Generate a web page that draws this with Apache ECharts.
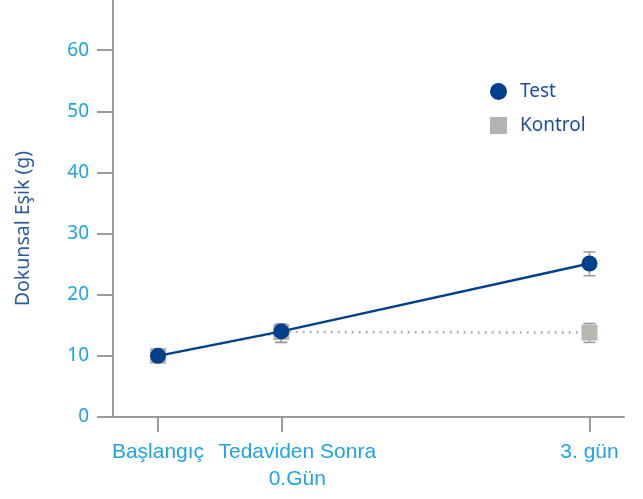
<!DOCTYPE html>
<html><head><meta charset="utf-8">
<script src="https://cdn.jsdelivr.net/npm/echarts@6/dist/echarts.min.js"></script>
<style>html,body{margin:0;padding:0;background:#fff}#c{width:643px;height:499px}</style>
</head><body><div id="c"></div>
<script>
const categories = ['Başlangıç', 'Tedaviden Sonra\n0.Gün', '3. gün'];
const timeValues = [1, 2, 4.5];
const testValues = [10, 14.0, 25.1];
const testLow = [10, 12.2, 23.1];
const testHigh = [10, 15.2, 27.0];
const controlValues = [10, 13.9, 13.8];
const controlLow = [10, 12.2, 12.2];
const controlHigh = [10, 15.2, 15.3];
const yTicks = [0, 10, 20, 30, 40, 50, 60];

const BLUE = '#03408c';
const LABEL = '#1ea4e4';
const AXIS = '#9b9b9b';
const X_MIN = 0.635, X_MAX = 4.78;

function errSeries(name, low, high, z) {
  return {
    type: 'custom', name: name + '-err', z: z, silent: true,
    data: timeValues.map((t, i) => [t, low[i], high[i]]),
    renderItem: function (params, api) {
      const x = api.value(0);
      const pLo = api.coord([x, api.value(1)]);
      const pHi = api.coord([x, api.value(2)]);
      const w = 6;
      const st = { stroke: '#9a9a9a', lineWidth: 1.5 };
      return { type: 'group', children: [
        { type: 'line', shape: { x1: pLo[0], y1: pLo[1], x2: pHi[0], y2: pHi[1] }, style: st },
        { type: 'line', shape: { x1: pLo[0] - w, y1: pLo[1], x2: pLo[0] + w, y2: pLo[1] }, style: st },
        { type: 'line', shape: { x1: pHi[0] - w, y1: pHi[1], x2: pHi[0] + w, y2: pHi[1] }, style: st }
      ]};
    }
  };
}

function labelFor(v) {
  const i = timeValues.indexOf(v);
  return i < 0 ? '' : categories[i];
}

const outerTicks = [timeValues[0], timeValues[2]];
const middleTick = [timeValues[1]];

const chart = echarts.init(document.getElementById('c'), null, { renderer: 'canvas' });
chart.setOption({
  animation: false,
  backgroundColor: '#fff',
  grid: { left: 113, right: 19, top: 0, bottom: 82 },
  legend: {
    orient: 'vertical', left: 485, top: 77, itemGap: 15,
    itemWidth: 17, itemHeight: 17,
    textStyle: { color: '#1d4f98', fontSize: 19, fontFamily: 'Noto Sans', padding: [0, 0, 0, 8] },
    data: [
      { name: 'Test', icon: 'circle', itemStyle: { color: BLUE } },
      { name: 'Kontrol', icon: 'rect', itemStyle: { color: '#b3b3b3' } }
    ]
  },
  xAxis: [{
    type: 'value', min: X_MIN, max: X_MAX, position: 'bottom',
    splitLine: { show: false },
    axisLine: { show: true, onZero: false, lineStyle: { color: AXIS, width: 2 } },
    axisTick: { show: true, customValues: outerTicks, length: 15, lineStyle: { color: AXIS, width: 2 } },
    axisLabel: {
      customValues: outerTicks, margin: 22, color: LABEL, fontSize: 21, fontFamily: 'Liberation Sans', lineHeight: 27,
      showMinLabel: true, showMaxLabel: true, formatter: labelFor
    }
  }, {
    type: 'value', min: X_MIN, max: X_MAX, position: 'bottom', offset: 0,
    splitLine: { show: false },
    axisLine: { show: false, onZero: false },
    axisTick: { show: true, customValues: middleTick, length: 15, lineStyle: { color: AXIS, width: 2 } },
    axisLabel: {
      customValues: middleTick, margin: 22, color: LABEL, fontSize: 21, fontFamily: 'Liberation Sans', lineHeight: 27,
      showMinLabel: true, showMaxLabel: true,
      formatter: function (v) { return '{off|' + labelFor(v) + '}'; },
      rich: { off: { padding: [0, 0, 0, 32], fontSize: 21, lineHeight: 27, color: LABEL, fontFamily: 'Liberation Sans' } }
    }
  }],
  yAxis: {
    type: 'value', min: 0, max: 68.2,
    name: 'Dokunsal Eşik (g)', nameLocation: 'middle', nameGap: 80, nameRotate: 90,
    nameTextStyle: { color: '#2a5c9e', fontSize: 19.5, fontFamily: 'Noto Sans', padding: [0, 40, 0, 0] },
    splitLine: { show: false },
    axisLine: { show: true, onZero: false, lineStyle: { color: AXIS, width: 2 } },
    axisTick: { show: true, customValues: yTicks, length: 16, lineStyle: { color: AXIS, width: 2 } },
    axisLabel: { customValues: yTicks, margin: 24, color: LABEL, fontSize: 19, fontFamily: 'Noto Sans' }
  },
  series: [
    errSeries('Kontrol', controlLow, controlHigh, 1),
    errSeries('Test', testLow, testHigh, 1),
    {
      name: 'Kontrol', type: 'line', z: 2,
      data: timeValues.map((t, i) => [t, controlValues[i]]),
      symbol: 'rect', symbolSize: 16, showSymbol: true,
      itemStyle: { color: '#bab6b0' },
      lineStyle: { color: '#b0b0b0', width: 2.5, type: [2, 5] }
    },
    {
      name: 'Test', type: 'line', z: 3,
      data: timeValues.map((t, i) => [t, testValues[i]]),
      symbol: 'circle', symbolSize: 16, showSymbol: true,
      itemStyle: { color: BLUE },
      lineStyle: { color: BLUE, width: 2.5 }
    }
  ]
});
</script></body></html>
